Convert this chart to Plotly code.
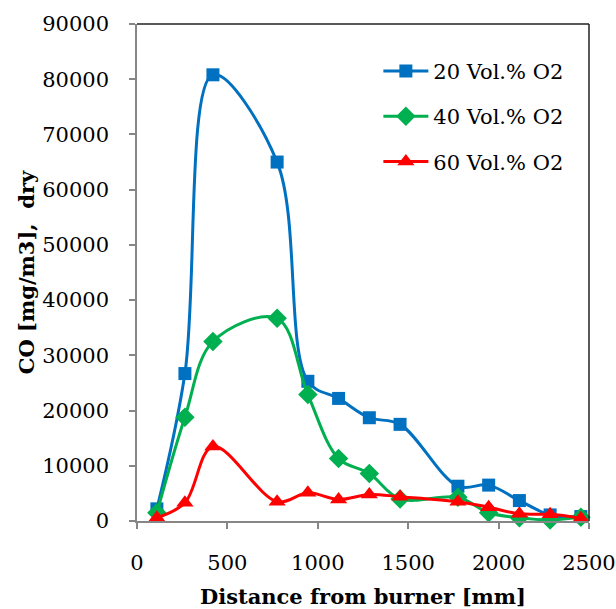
import plotly.graph_objects as go

x_vals = [110, 265, 420, 775, 945, 1115, 1285, 1455, 1775, 1945, 2115, 2285, 2455]
co_20 = [2200, 26700, 80800, 65000, 25300, 22200, 18700, 17500, 6300, 6500, 3700, 1100, 800]
co_40 = [1500, 18800, 32500, 36700, 22900, 11300, 8600, 4000, 4300, 1500, 600, 200, 700]
co_60 = [600, 3300, 13500, 3500, 5100, 3900, 4800, 4400, 3500, 2500, 1300, 1200, 500]

series_names = ["20 Vol.% O2", "40 Vol.% O2", "60 Vol.% O2"]
x_ticks = [0, 500, 1000, 1500, 2000, 2500]
y_ticks = [0, 10000, 20000, 30000, 40000, 50000, 60000, 70000, 80000, 90000]

FONT = "DejaVu Serif"
FS = 21
fig = go.Figure()

styles = [
    (co_20, "#0070C0", "square", 13),
    (co_40, "#00B050", "diamond", 15),
    (co_60, "#FF0000", "triangle-up", 15),
]
for name, (vals, col, sym, size) in zip(series_names, styles):
    fig.add_trace(go.Scatter(
        x=x_vals, y=vals, name=name, mode="lines+markers",
        line=dict(color=col, width=3, shape="spline", smoothing=1.0),
        marker=dict(symbol=sym, size=size, color=col),
        legendgroup=name, cliponaxis=False,
    ))

fig.update_layout(
    width=616, height=609,
    margin=dict(l=137, r=27, t=24, b=88),
    paper_bgcolor="white", plot_bgcolor="white",
    font=dict(family=FONT, size=FS, color="black"),
    showlegend=True,
    legend=dict(
        x=0.534, y=0.946, xanchor="left", yanchor="top",
        traceorder="grouped", tracegroupgap=15,
        bgcolor="rgba(0,0,0,0)", font=dict(family=FONT, size=FS),
        itemwidth=45,
    ),
    xaxis=dict(
        range=[0, 2500], tickvals=x_ticks, tickformat="d",
        showgrid=False, zeroline=False, automargin=False,
        showline=True, linecolor="#868686", linewidth=1.5,
        ticks="outside", ticklen=6, tickcolor="#868686", tickwidth=1.5,
        ticklabelstandoff=16,
        title=dict(text="<b>Distance from burner [mm]</b>", standoff=16,
                   font=dict(family=FONT, size=FS)),
    ),
    yaxis=dict(
        range=[0, 90000], tickvals=y_ticks, tickformat="d",
        showgrid=False, zeroline=False, automargin=False,
        showline=True, linecolor="#868686", linewidth=1.5,
        ticks="outside", ticklen=6, tickcolor="#868686", tickwidth=1.5,
        ticklabelstandoff=16,
        title=dict(text="<b>CO [mg/m3],&nbsp; dry</b>", standoff=2,
                   font=dict(family=FONT, size=FS)),
    ),
    shapes=[
        dict(type="line", xref="paper", yref="paper", x0=0, x1=1, y0=1, y1=1,
             line=dict(color="#222222", width=1.5)),
        dict(type="line", xref="paper", yref="paper", x0=1, x1=1, y0=0, y1=1,
             line=dict(color="#222222", width=1.5)),
    ],
)

fig.write_html("out.html")
